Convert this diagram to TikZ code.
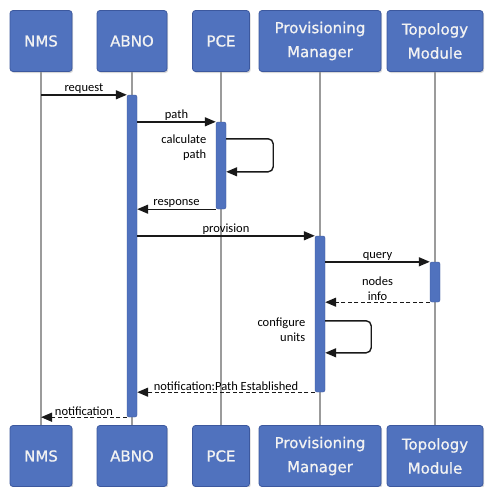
\documentclass[tikz,border=0pt]{standalone}
\usepackage{fontspec}
\setmainfont{DejaVu Sans}
\newfontfamily\msgfont{Carlito}
\newfontfamily\actorfont[FakeBold=0.9]{DejaVu Sans}
\usepackage{tikz}
\usetikzlibrary{arrows.meta, positioning, calc, shadows}
\definecolor{actorblue}{RGB}{80,114,190}
\definecolor{actoredge}{RGB}{60,88,158}
\definecolor{lifegray}{RGB}{155,155,155}
\definecolor{msgdark}{RGB}{25,25,25}

\begin{document}
\begin{tikzpicture}[x=1pt, y=-1pt,
    every node/.style={font=\msgfont\fontsize{12.5}{15}\selectfont},
    actor/.style={rectangle, rounded corners=3pt, fill=actorblue, draw=actoredge, thick,
      text=white!95!black, align=center, inner sep=0pt, minimum height=61pt,
      font=\actorfont\fontsize{15}{24}\selectfont,
      drop shadow={shadow xshift=1.2pt, shadow yshift=-1.5pt, opacity=0.3}},
    actbar/.style={rectangle, rounded corners=2pt, fill=actorblue, draw=actoredge,
      minimum width=10pt, inner sep=0pt},
    lifeline/.style={draw=lifegray, line width=1.1pt},
    msg/.style={draw=msgdark, line width=1.4pt, -{Triangle[length=11pt, width=9pt]}},
    reply/.style={msg, dash pattern=on 4pt off 2.5pt},
    msglabel/.style={midway, above=-0.5pt, inner sep=1pt}]
  \useasboundingbox[fill=white] (0,0) rectangle (485,487);
  % Actors and lifelines
  \foreach \name/\x/\w/\txt in {
      nms/41/62/NMS,
      abno/132/70/ABNO,
      pce/221/57/PCE,
      pm/320/122/{Provisioning\\Manager},
      tm/435/96/{Topology\\Module}}{
    \node[actor, minimum width=\w pt] (\name-top) at (\x,41) {\txt};
    \node[actor, minimum width=\w pt] (\name-bot) at (\x,456) {\txt};
    \draw[lifeline] (\name-top.south) -- (\name-bot.north);
  }
  % Activation bars
  \node[actbar, minimum height=322pt] (abnoAct) at (abno-top |- 0,256) {};
  \node[actbar, minimum height=87pt] (pceAct) at (pce-top |- 0,165.5) {};
  \node[actbar, minimum height=156pt] (pmAct) at (pm-top |- 0,314) {};
  \node[actbar, minimum height=40pt] (tmAct) at (tm-top |- 0,282) {};
  % Messages
  \draw[msg] (nms-top.south |- abnoAct.north) -- (abnoAct.north west)
    node[msglabel] {request};
  \draw[msg] (abnoAct.east |- pceAct.north) -- (pceAct.north west)
    node[msglabel] {path};
  \draw[msg, rounded corners=5pt] ($(pceAct.north east)+(0,17)$) -- ++(47,0)
    |- ($(pceAct.north east)+(0,50)$);
  \node[anchor=east, align=right] (calcLbl) at ($(pceAct.north west)+(-6,26)$)
    {calculate\\path};
  \draw[msg] (pceAct.south west) -- (abnoAct.east |- pceAct.south)
    node[msglabel] {response};
  \draw[msg] (abnoAct.east |- pmAct.north) -- (pmAct.north west)
    node[msglabel] {provision};
  \draw[msg] (pmAct.east |- tmAct.north) -- (tmAct.north west)
    node[msglabel] {query};
  \draw[reply] (tmAct.south west) -- (pmAct.east |- tmAct.south)
    node[msglabel, align=center] {nodes\\info};
  \draw[msg, rounded corners=5pt] ($(pmAct.north east)+(0,85)$) -- ++(46,0)
    |- ($(pmAct.north east)+(0,117)$);
  \node[anchor=east, align=right] (confLbl) at ($(pmAct.north west)+(-6,94)$)
    {configure\\units};
  \draw[reply] (pmAct.south west) -- (abnoAct.east |- pmAct.south)
    node[msglabel] {notification:Path Established};
  \draw[reply] (abnoAct.south west) -- (nms-bot.north |- abnoAct.south)
    node[msglabel] {notification};
\end{tikzpicture}
\end{document}
